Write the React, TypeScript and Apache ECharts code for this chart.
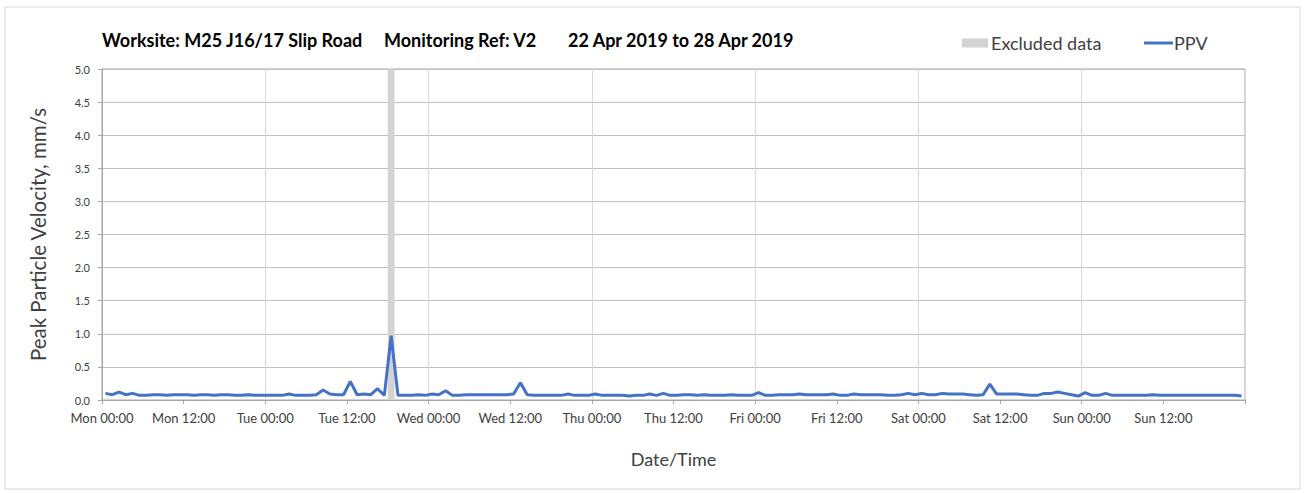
import React, { useEffect, useRef } from "react";
import * as echarts from "echarts";

const dayNames = ["Mon", "Tue", "Wed", "Thu", "Fri", "Sat", "Sun"];
const halfDayLabels = ["00:00", "12:00"];
const yTicks = [0, 0.5, 1, 1.5, 2, 2.5, 3, 3.5, 4, 4.5, 5];

// hourly PPV readings (mm/s), each plotted at the half hour, Mon 00:30 .. Sun 23:30
const ppvMon = [0.1, 0.08, 0.12, 0.08, 0.1, 0.07, 0.07, 0.08, 0.08, 0.07, 0.08, 0.08, 0.08, 0.07, 0.08, 0.08, 0.07, 0.08, 0.08, 0.07, 0.07, 0.08, 0.07, 0.07];
const ppvTue = [0.07, 0.07, 0.07, 0.09, 0.07, 0.07, 0.07, 0.08, 0.15, 0.09, 0.08, 0.08, 0.28, 0.08, 0.09, 0.08, 0.17, 0.07, 0.97, 0.07, 0.07, 0.07, 0.08, 0.07];
const ppvWed = [0.09, 0.08, 0.14, 0.07, 0.07, 0.08, 0.08, 0.08, 0.08, 0.08, 0.08, 0.08, 0.09, 0.26, 0.08, 0.07, 0.07, 0.07, 0.07, 0.07, 0.09, 0.07, 0.07, 0.07];
const ppvThu = [0.09, 0.07, 0.07, 0.07, 0.07, 0.06, 0.07, 0.07, 0.09, 0.07, 0.1, 0.07, 0.07, 0.08, 0.08, 0.07, 0.08, 0.07, 0.07, 0.07, 0.08, 0.07, 0.07, 0.07];
const ppvFri = [0.11, 0.07, 0.07, 0.08, 0.08, 0.08, 0.09, 0.08, 0.08, 0.08, 0.08, 0.09, 0.07, 0.07, 0.09, 0.08, 0.08, 0.08, 0.08, 0.07, 0.07, 0.08, 0.1, 0.08];
const ppvSat = [0.1, 0.08, 0.08, 0.1, 0.09, 0.09, 0.09, 0.08, 0.07, 0.08, 0.24, 0.09, 0.09, 0.09, 0.09, 0.08, 0.07, 0.07, 0.1, 0.1, 0.12, 0.1, 0.08, 0.06];
const ppvSun = [0.11, 0.07, 0.07, 0.1, 0.07, 0.07, 0.07, 0.07, 0.07, 0.07, 0.08, 0.07, 0.07, 0.07, 0.07, 0.07, 0.07, 0.07, 0.07, 0.07, 0.07, 0.07, 0.07, 0.06];
const ppvValues = [...ppvMon, ...ppvTue, ...ppvWed, ...ppvThu, ...ppvFri, ...ppvSat, ...ppvSun];

// excluded window, hours from Mon 00:00
const excludedStart = 42;
const excludedEnd = 43;

const FONT = "Lato, 'Noto Sans', sans-serif";
const TEXT = "#404040";
const titleStyle = { fontSize: 18, fontWeight: "bold", color: "#000", fontFamily: FONT };

export default function App() {
  const ref = useRef<HTMLDivElement>(null);
  useEffect(() => {
    document.body.style.margin = "0";
    if (!ref.current) return;
    const chart = echarts.init(ref.current, null, { renderer: "svg" });
    const data = ppvValues.map((v, i) => [i + 0.5, v]);
    chart.setOption({
      animation: false,
      textStyle: { fontFamily: FONT },
      title: [
        { text: "Worksite: M25 J16/17 Slip Road", left: 102, top: 31, padding: 0, textStyle: titleStyle },
        { text: "Monitoring Ref: V2", left: 384, top: 31, padding: 0, textStyle: titleStyle },
        { text: "22 Apr 2019 to 28 Apr 2019", left: 568, top: 31, padding: 0, textStyle: titleStyle },
      ],
      legend: [
        {
          data: [{ name: "Excluded data", icon: "rect" }],
          left: 962, top: 34, padding: 0, itemWidth: 26, itemHeight: 9, itemGap: 0,
          textStyle: { fontSize: 18, color: TEXT, fontFamily: FONT, padding: [0, 0, 0, -2] },
        },
        {
          data: [{ name: "PPV", icon: "rect" }],
          left: 1144, top: 34, padding: 0, itemWidth: 29, itemHeight: 3,
          textStyle: { fontSize: 18, color: TEXT, fontFamily: FONT, padding: [0, 0, 0, -4] },
        },
      ],
      graphic: [
        { type: "rect", shape: { x: 5, y: 7, width: 1295, height: 482 }, style: { fill: "none", stroke: "#d9d9d9", lineWidth: 1 }, silent: true, z: -10 },
      ],
      grid: { left: 102, top: 69, right: 62, bottom: 93, show: true, borderColor: "#a6a6a6", borderWidth: 1 },
      xAxis: {
        type: "value",
        min: 0,
        max: 168,
        interval: 12,
        name: "Date/Time",
        nameLocation: "middle",
        nameGap: 50,
        nameTextStyle: { fontSize: 18, color: TEXT, fontFamily: FONT },
        axisLine: { lineStyle: { color: "#a6a6a6" } },
        axisTick: { show: true, length: 4, lineStyle: { color: "#a6a6a6" } },
        axisLabel: {
          color: TEXT, fontSize: 13, margin: 11, fontFamily: FONT,
          formatter: (v: number) => {
            const d = Math.floor(v / 24);
            if (d >= dayNames.length) return "";
            return dayNames[d] + " " + halfDayLabels[Math.round((v % 24) / 12)];
          },
        },
        splitLine: { show: true, lineStyle: { color: ["#d9d9d9", "rgba(0,0,0,0)"] } },
      },
      yAxis: {
        type: "value",
        min: 0,
        max: 5,
        interval: 0.5,
        name: "Peak Particle Velocity, mm/s",
        nameLocation: "middle",
        nameGap: 54,
        nameTextStyle: { fontSize: 20.5, color: TEXT, fontFamily: FONT },
        axisLine: { show: true, lineStyle: { color: "#a6a6a6" } },
        axisTick: { show: true, length: 4, lineStyle: { color: "#a6a6a6" } },
        axisLabel: { color: TEXT, fontSize: 11, margin: 12, fontFamily: FONT, formatter: (v: number) => (yTicks.includes(v) ? v.toFixed(1) : "") },
        splitLine: { show: true, lineStyle: { color: "#bfbfbf" } },
      },
      series: [
        {
          name: "Excluded data",
          type: "line",
          data: [],
          itemStyle: { color: "#d3d3d3" },
          lineStyle: { color: "#d3d3d3" },
          markArea: {
            silent: true,
            itemStyle: { color: "#d3d3d3" },
            data: [[{ xAxis: excludedStart }, { xAxis: excludedEnd }]],
          },
        },
        {
          name: "PPV",
          type: "line",
          data,
          showSymbol: false,
          symbol: "none",
          itemStyle: { color: "#4472c4" },
          lineStyle: { color: "#4472c4", width: 3 },
          z: 3,
        },
      ],
    });
    return () => chart.dispose();
  }, []);
  return <div ref={ref} style={{ width: 1307, height: 493 }} />;
}
